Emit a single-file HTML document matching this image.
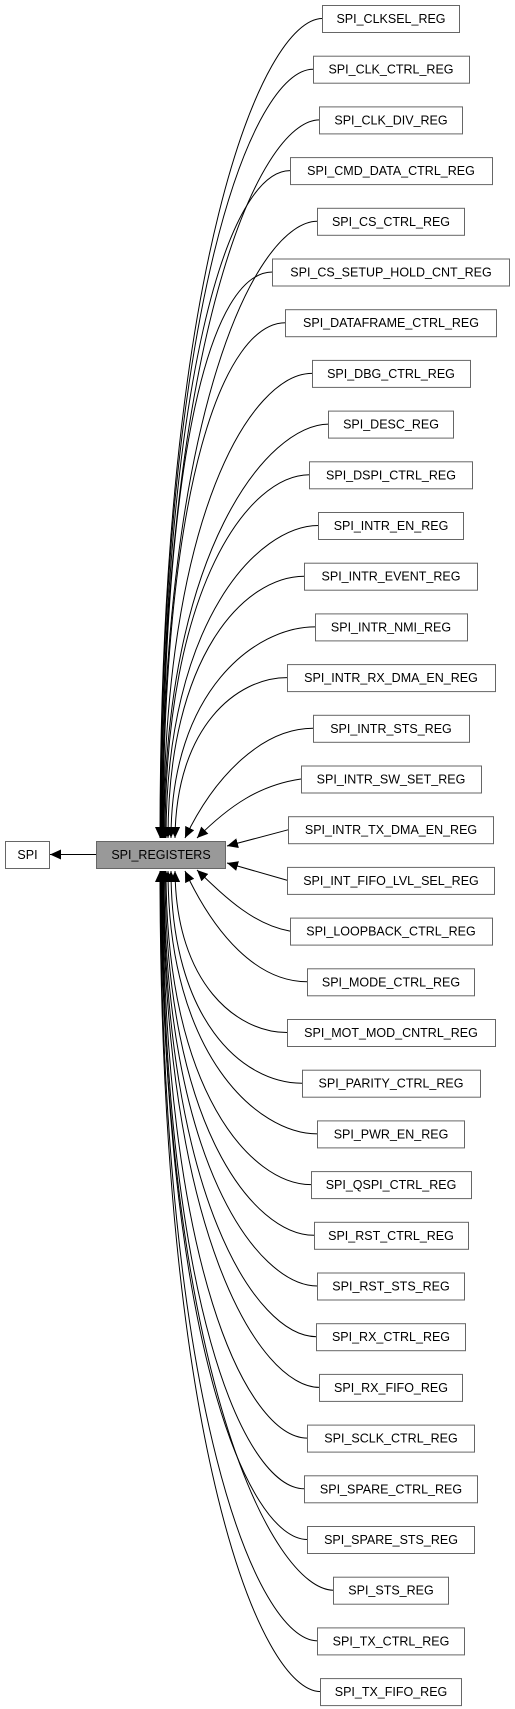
<!DOCTYPE html>
<html><head><meta charset="utf-8"><style>
html,body{margin:0;padding:0;background:#fff;}
svg{display:block;}
text{font-family:"Liberation Sans",Arial,sans-serif;font-size:12.5px;fill:#000;text-anchor:middle;}
.b{fill:#fff;stroke:#666;stroke-width:1;}
.e{fill:none;stroke:#000;stroke-width:1;}
</style></head><body>
<svg width="515" height="1709" viewBox="0 0 515 1709" xmlns="http://www.w3.org/2000/svg">
<defs><marker id="a" markerUnits="userSpaceOnUse" markerWidth="12" markerHeight="10" refX="11" refY="5" orient="auto"><path d="M0,0 L11,5 L0,10 z" fill="#000"/></marker></defs>
<g class="edges">
<path class="e" marker-end="url(#a)" d="M322.5 18.5 C262.5 18.5 160 265.3 160 838"/>
<path class="e" marker-end="url(#a)" d="M313 69.2 C253 69.2 160.5 300.7 160.5 838"/>
<path class="e" marker-end="url(#a)" d="M319.5 119.9 C259.5 119.9 161 336.2 161 838"/>
<path class="e" marker-end="url(#a)" d="M290 170.6 C230 170.6 161.5 371.7 161.5 838"/>
<path class="e" marker-end="url(#a)" d="M317.5 221.3 C257.5 221.3 162 407.2 162 838"/>
<path class="e" marker-end="url(#a)" d="M272.5 272 C212.5 272 162.5 442.7 162.5 838"/>
<path class="e" marker-end="url(#a)" d="M285.5 322.7 C225.5 322.7 163 478.2 163 838"/>
<path class="e" marker-end="url(#a)" d="M312 373.4 C252 373.4 163.5 513.7 163.5 838"/>
<path class="e" marker-end="url(#a)" d="M328.5 424.1 C268.5 424.1 164 549.2 164 838"/>
<path class="e" marker-end="url(#a)" d="M309.5 474.8 C249.5 474.8 165 584.7 165 838"/>
<path class="e" marker-end="url(#a)" d="M318.5 525.5 C258.5 525.5 166 620.2 166 838"/>
<path class="e" marker-end="url(#a)" d="M304.5 576.2 C244.5 576.2 168 655.6 168 838"/>
<path class="e" marker-end="url(#a)" d="M315 626.9 C255 626.9 171 691.1 171 838"/>
<path class="e" marker-end="url(#a)" d="M287 677.6 C237 677.6 176 726.6 175 838"/>
<path class="e" marker-end="url(#a)" d="M313 728.3 C263 728.3 215 775 185 838"/>
<path class="e" marker-end="url(#a)" d="M301 779 C260 785 230 805 197 838"/>
<path class="e" marker-end="url(#a)" d="M288.5 829.7 L227 846"/>
<path class="e" marker-end="url(#a)" d="M287.5 880.4 L227 863"/>
<path class="e" marker-end="url(#a)" d="M290 931.1 C255 925 228 900 197 870"/>
<path class="e" marker-end="url(#a)" d="M307.5 981.8 C257 981.8 215 935 185 871"/>
<path class="e" marker-end="url(#a)" d="M287 1032.5 C237 1032.5 176 984 175 871"/>
<path class="e" marker-end="url(#a)" d="M302 1083.2 C242 1083.2 171 1019.5 171 871"/>
<path class="e" marker-end="url(#a)" d="M317.5 1133.9 C257.5 1133.9 168 1055 168 871"/>
<path class="e" marker-end="url(#a)" d="M311 1184.6 C251 1184.6 166 1090.5 166 871"/>
<path class="e" marker-end="url(#a)" d="M314 1235.3 C254 1235.3 165 1126 165 871"/>
<path class="e" marker-end="url(#a)" d="M317.5 1286 C257.5 1286 164 1161.5 164 871"/>
<path class="e" marker-end="url(#a)" d="M316.5 1336.7 C256.5 1336.7 163.5 1197 163.5 871"/>
<path class="e" marker-end="url(#a)" d="M319.5 1387.4 C259.5 1387.4 163 1232.5 163 871"/>
<path class="e" marker-end="url(#a)" d="M307.5 1438.1 C247.5 1438.1 162.5 1268 162.5 871"/>
<path class="e" marker-end="url(#a)" d="M304.5 1488.8 C244.5 1488.8 162 1303.5 162 871"/>
<path class="e" marker-end="url(#a)" d="M307.5 1539.5 C247.5 1539.5 161.5 1338.9 161.5 871"/>
<path class="e" marker-end="url(#a)" d="M333.5 1590.2 C273.5 1590.2 161 1374.4 161 871"/>
<path class="e" marker-end="url(#a)" d="M317.5 1640.9 C257.5 1640.9 160.5 1410 160.5 871"/>
<path class="e" marker-end="url(#a)" d="M320.5 1691.6 C260.5 1691.6 160 1445.4 160 871"/>
<path class="e" marker-end="url(#a)" d="M96 854.5 L50 854.5"/>
</g>
<rect class="b" x="5.5" y="841.5" width="44" height="27"/><text x="27.5" y="859">SPI</text>
<rect x="96.5" y="841.5" width="129" height="27" fill="#999" stroke="#666"/><text x="161" y="859">SPI_REGISTERS</text>
<rect class="b" x="322.5" y="5.5" width="137" height="27"/><text x="391" y="23">SPI_CLKSEL_REG</text>
<rect class="b" x="313.5" y="56.2" width="156" height="27"/><text x="391" y="73.7">SPI_CLK_CTRL_REG</text>
<rect class="b" x="319.5" y="106.9" width="143" height="27"/><text x="391" y="124.4">SPI_CLK_DIV_REG</text>
<rect class="b" x="290.5" y="157.6" width="202" height="27"/><text x="391" y="175.1">SPI_CMD_DATA_CTRL_REG</text>
<rect class="b" x="317.5" y="208.3" width="147" height="27"/><text x="391" y="225.8">SPI_CS_CTRL_REG</text>
<rect class="b" x="272.5" y="259" width="237" height="27"/><text x="391" y="276.5">SPI_CS_SETUP_HOLD_CNT_REG</text>
<rect class="b" x="285.5" y="309.7" width="211" height="27"/><text x="391" y="327.2">SPI_DATAFRAME_CTRL_REG</text>
<rect class="b" x="312.5" y="360.4" width="158" height="27"/><text x="391" y="377.9">SPI_DBG_CTRL_REG</text>
<rect class="b" x="328.5" y="411.1" width="125" height="27"/><text x="391" y="428.6">SPI_DESC_REG</text>
<rect class="b" x="309.5" y="461.8" width="163" height="27"/><text x="391" y="479.3">SPI_DSPI_CTRL_REG</text>
<rect class="b" x="318.5" y="512.5" width="145" height="27"/><text x="391" y="530">SPI_INTR_EN_REG</text>
<rect class="b" x="304.5" y="563.2" width="173" height="27"/><text x="391" y="580.7">SPI_INTR_EVENT_REG</text>
<rect class="b" x="315.5" y="613.9" width="152" height="27"/><text x="391" y="631.4">SPI_INTR_NMI_REG</text>
<rect class="b" x="287.5" y="664.6" width="208" height="27"/><text x="391" y="682.1">SPI_INTR_RX_DMA_EN_REG</text>
<rect class="b" x="313.5" y="715.3" width="156" height="27"/><text x="391" y="732.8">SPI_INTR_STS_REG</text>
<rect class="b" x="301.5" y="766" width="180" height="27"/><text x="391" y="783.5">SPI_INTR_SW_SET_REG</text>
<rect class="b" x="288.5" y="816.7" width="205" height="27"/><text x="391" y="834.2">SPI_INTR_TX_DMA_EN_REG</text>
<rect class="b" x="287.5" y="867.4" width="207" height="27"/><text x="391" y="884.9">SPI_INT_FIFO_LVL_SEL_REG</text>
<rect class="b" x="290.5" y="918.1" width="202" height="27"/><text x="391" y="935.6">SPI_LOOPBACK_CTRL_REG</text>
<rect class="b" x="307.5" y="968.8" width="167" height="27"/><text x="391" y="986.3">SPI_MODE_CTRL_REG</text>
<rect class="b" x="287.5" y="1019.5" width="208" height="27"/><text x="391" y="1037">SPI_MOT_MOD_CNTRL_REG</text>
<rect class="b" x="302.5" y="1070.2" width="178" height="27"/><text x="391" y="1087.7">SPI_PARITY_CTRL_REG</text>
<rect class="b" x="317.5" y="1120.9" width="147" height="27"/><text x="391" y="1138.4">SPI_PWR_EN_REG</text>
<rect class="b" x="311.5" y="1171.6" width="160" height="27"/><text x="391" y="1189.1">SPI_QSPI_CTRL_REG</text>
<rect class="b" x="314.5" y="1222.3" width="154" height="27"/><text x="391" y="1239.8">SPI_RST_CTRL_REG</text>
<rect class="b" x="317.5" y="1273" width="147" height="27"/><text x="391" y="1290.5">SPI_RST_STS_REG</text>
<rect class="b" x="316.5" y="1323.7" width="149" height="27"/><text x="391" y="1341.2">SPI_RX_CTRL_REG</text>
<rect class="b" x="319.5" y="1374.4" width="143" height="27"/><text x="391" y="1391.9">SPI_RX_FIFO_REG</text>
<rect class="b" x="307.5" y="1425.1" width="167" height="27"/><text x="391" y="1442.6">SPI_SCLK_CTRL_REG</text>
<rect class="b" x="304.5" y="1475.8" width="173" height="27"/><text x="391" y="1493.3">SPI_SPARE_CTRL_REG</text>
<rect class="b" x="307.5" y="1526.5" width="167" height="27"/><text x="391" y="1544">SPI_SPARE_STS_REG</text>
<rect class="b" x="333.5" y="1577.2" width="115" height="27"/><text x="391" y="1594.7">SPI_STS_REG</text>
<rect class="b" x="317.5" y="1627.9" width="147" height="27"/><text x="391" y="1645.4">SPI_TX_CTRL_REG</text>
<rect class="b" x="320.5" y="1678.6" width="141" height="27"/><text x="391" y="1696.1">SPI_TX_FIFO_REG</text>
</svg>
</body></html>
